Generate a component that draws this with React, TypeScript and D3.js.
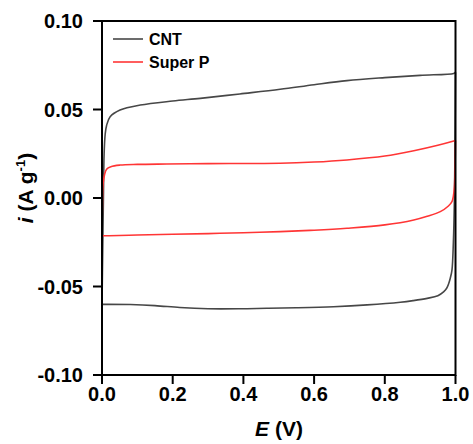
import React from "react";
import * as d3 from "d3";

const xTicks = [0, 0.2, 0.4, 0.6, 0.8, 1.0];
const yTicks = [-0.1, -0.05, 0, 0.05, 0.1];

// CNT: anodic then cathodic sweep
const cntForwardE = [0, 0.002, 0.004, 0.006, 0.009, 0.013, 0.023, 0.051, 0.108, 0.2, 0.278, 0.39, 0.504, 0.6, 0.693, 0.8, 0.9, 0.995, 1.0];
const cntForwardI = [-0.0601, -0.03, 0.0, 0.025, 0.036, 0.041, 0.0459, 0.0497, 0.0525, 0.0548, 0.0563, 0.0588, 0.0614, 0.064, 0.0663, 0.068, 0.0693, 0.0704, 0.0711];
const cntReverseE = [1.0, 0.999, 0.997, 0.994, 0.99, 0.985, 0.981, 0.975, 0.967, 0.95, 0.92, 0.88, 0.844, 0.75, 0.655, 0.55, 0.466, 0.39, 0.3, 0.22, 0.15, 0.08, 0.0];
const cntReverseI = [0.0711, 0.04, 0.0, -0.025, -0.0407, -0.0455, -0.0482, -0.051, -0.0529, -0.0552, -0.0567, -0.058, -0.0589, -0.0604, -0.0614, -0.062, -0.0623, -0.0626, -0.0626, -0.0619, -0.0608, -0.0602, -0.0601];

// Super P
const spForwardE = [0, 0.001, 0.003, 0.007, 0.013, 0.025, 0.051, 0.1, 0.183, 0.3, 0.4, 0.504, 0.6, 0.693, 0.8, 0.882, 0.95, 0.995, 1.0];
const spForwardI = [-0.0213, -0.005, 0.008, 0.013, 0.0163, 0.0177, 0.0186, 0.019, 0.0192, 0.0194, 0.0195, 0.0196, 0.0203, 0.0215, 0.0237, 0.0267, 0.0298, 0.0322, 0.0325];
const spReverseE = [1.0, 0.999, 0.997, 0.994, 0.99, 0.98, 0.957, 0.92, 0.882, 0.8, 0.693, 0.6, 0.504, 0.4, 0.3, 0.2, 0.1, 0.02, 0.0];
const spReverseI = [0.0325, 0.02, 0.0064, 0.001, -0.0021, -0.0045, -0.0077, -0.0103, -0.0124, -0.0152, -0.0171, -0.0182, -0.019, -0.0196, -0.0201, -0.0205, -0.0209, -0.0213, -0.0213];

const seriesNames = ["CNT", "Super P"];
const seriesColors = ["#474747", "#ff3535"];

const W = 473, H = 444;
const L = 102, R = 455.5, T = 21, B = 375;
const FONT = "'Liberation Sans', Arial, Helvetica, sans-serif";

const fmt = (f: string) => (v: number) => d3.format(f)(v).replace("\u2212", "-");

export default function App() {
  const x = d3.scaleLinear().domain([0, 1]).range([L, R]);
  const y = d3.scaleLinear().domain([-0.1, 0.1]).range([B, T]);
  const line = d3
    .line<[number, number]>()
    .x((d) => x(d[0]))
    .y((d) => y(d[1]))
    .curve(d3.curveCatmullRom.alpha(0.5));

  const zip = (a: number[], b: number[]) => a.map((v, i) => [v, b[i]] as [number, number]);
  const cnt = [zip(cntForwardE, cntForwardI), zip(cntReverseE, cntReverseI)];
  const sp = [zip(spForwardE, spForwardI), zip(spReverseE, spReverseI)];
  const series = [cnt, sp];
  const fy = fmt(".2f");
  const fx = fmt(".1f");

  return (
    <svg width={W} height={H} style={{ position: "fixed", left: 0, top: 0, background: "#fff" }} fontFamily={FONT}>
      <rect x={0} y={0} width={W} height={H} fill="#fff" />
      {series.map((branches, si) =>
        branches.map((pts, bi) => (
          <path key={`${si}-${bi}`} d={line(pts) || ""} fill="none" stroke={seriesColors[si]} strokeWidth={1.6} />
        ))
      )}
      {/* frame */}
      <rect x={L} y={T} width={R - L} height={B - T} fill="none" stroke="#000" strokeWidth={2} />
      {/* y ticks */}
      {yTicks.map((t) => (
        <g key={`y${t}`}>
          <line x1={L - 9} x2={L} y1={y(t)} y2={y(t)} stroke="#000" strokeWidth={2} />
          <text x={83} y={y(t)} dy="0.36em" textAnchor="end" fontSize={20} fontWeight="bold">
            {fy(t)}
          </text>
        </g>
      ))}
      {/* x ticks */}
      {xTicks.map((t) => (
        <g key={`x${t}`}>
          <line x1={x(t)} x2={x(t)} y1={B} y2={B + 9} stroke="#000" strokeWidth={2} />
          <text x={x(t)} y={401} textAnchor="middle" fontSize={20} fontWeight="bold">
            {fx(t)}
          </text>
        </g>
      ))}
      {/* axis titles */}
      <text x={279} y={436} textAnchor="middle" fontSize={21} fontWeight="bold">
        <tspan fontStyle="italic">E</tspan>
        <tspan> (V)</tspan>
      </text>
      <text transform="translate(33, 188) rotate(-90)" textAnchor="middle" fontSize={21} fontWeight="bold">
        <tspan fontStyle="italic">i</tspan>
        <tspan> (A g</tspan>
        <tspan fontSize={13} dy={-8}>-1</tspan>
        <tspan dy={8}>)</tspan>
      </text>
      {/* legend */}
      {seriesNames.map((n, i) => (
        <g key={n}>
          <line x1={113} x2={143} y1={39 + i * 23} y2={39 + i * 23} stroke={seriesColors[i]} strokeWidth={1.6} />
          <text x={149} y={39 + i * 23} dy="0.36em" fontSize={16} fontWeight="bold">
            {n}
          </text>
        </g>
      ))}
    </svg>
  );
}
